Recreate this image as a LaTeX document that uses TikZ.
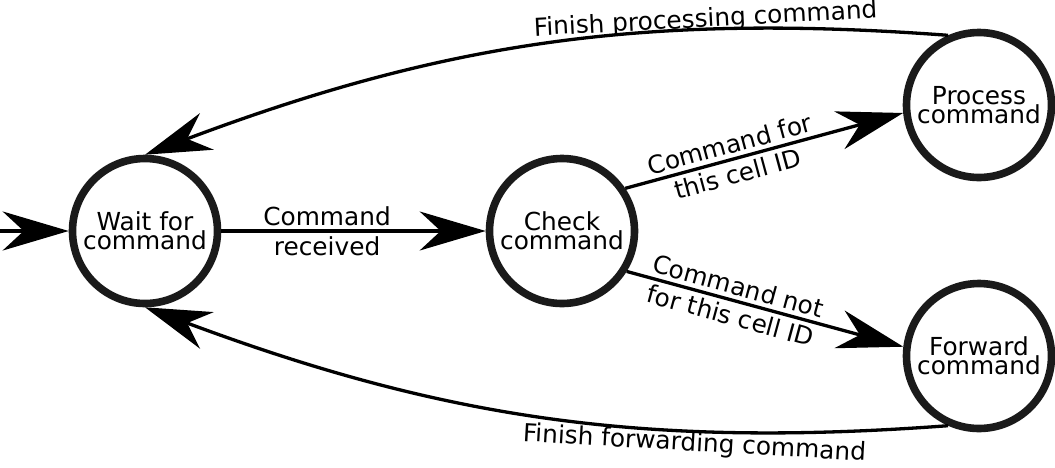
\documentclass[tikz,border=0pt]{standalone}
\usepackage{fontspec}
\setmainfont{DejaVu Sans}
\usetikzlibrary{arrows.meta}
\definecolor{ringcol}{HTML}{1A1A1A}
\newcommand\statefont{\fontsize{12.4pt}{9.4pt}\selectfont\lineskiplimit=-20pt\relax}
\newcommand\edgefont{\fontsize{12.4pt}{15.2pt}\selectfont\lineskiplimit=-20pt\relax}
\begin{document}
\begin{tikzpicture}[x=0.5pt,y=-0.5pt,
  state/.style={circle, draw=ringcol, line width=3.8pt, minimum size=72.5pt,
    inner sep=0pt, align=center, font=\statefont},
  trans/.style={line width=1.65pt, draw=black,
    -{Stealth[length=33pt,width=19.5pt,inset=10.5pt]}},
  lbl/.style={align=center, inner sep=0pt, font=\edgefont},
  curvelbl/.style={inner sep=0pt, anchor=base, font=\edgefont}]
\useasboundingbox (0,0) rectangle (1055,467);

\node[state] (W) at (145,231) {Wait for\\command};
\node[state] (C) at (562,231) {Check\\command};
\node[state] (P) at (979,105) {Process\\command};
\node[state] (F) at (979,356) {Forward\\command};
\coordinate (in) at (0,231);

\draw[trans] (in) -- (W.west);
\draw[trans] (W.east) -- node[lbl, pos=0.4] {Command\\received} (C.west);
\draw[trans] (C.34) -- node[lbl, sloped, pos=0.39] {Command for\\this cell ID} (P.186);
\draw[trans] (C.-32) -- node[lbl, sloped, pos=0.39] {Command not\\for this cell ID} (F.173);
\draw[trans] (P.114) .. controls (647,13) and (447,41) .. (W.north);
\draw[trans] (F.246) .. controls (647,448) and (447,420) .. (W.south);

\node[curvelbl, rotate=3] (lp) at (706,27) {Finish processing command};
\node[curvelbl, rotate=-3.3] (lf) at (694,451) {Finish forwarding command};
\end{tikzpicture}
\end{document}
